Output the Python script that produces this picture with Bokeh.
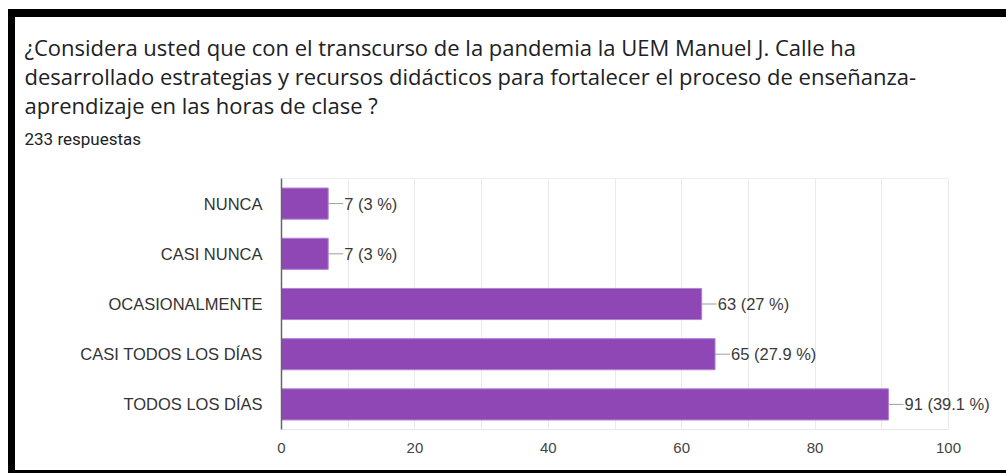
from bokeh.plotting import figure
from bokeh.layouts import column
from bokeh.models import (ColumnDataSource, FactorRange, Range1d, LabelSet,
                          SingleIntervalTicker, FixedTicker, LinearAxis)
from bokeh.embed import file_html
from bokeh.resources import INLINE
from bokeh.core.properties import value

# ---- data ----
categories = ["NUNCA", "CASI NUNCA", "OCASIONALMENTE", "CASI TODOS LOS DÍAS", "TODOS LOS DÍAS"]
counts = [7, 7, 63, 65, 91]
percents = ["3", "3", "27", "27.9", "39.1"]
title_lines = [
    "¿Considera usted que con el transcurso de la pandemia la UEM Manuel J. Calle ha",
    "desarrollado estrategias y recursos didácticos para fortalecer el proceso de enseñanza-",
    "aprendizaje en las horas de clase ?",
]
subtitle = "233 respuestas"
x_ticks_interval = 20
x_axis_max = 100

labels = [f"{c} ({p} %)" for c, p in zip(counts, percents)]

# ---- layout constants (pixels) ----
W = 991
TOP_H = 155
CH_H = 298
FL, FR, FT, FB = 266, 8, 6, 41
px_per_unit = 667 / x_axis_max
x_end = (W - FL - FR) / px_per_unit

# ---- header figure (pixel coordinates) ----
head = figure(width=W, height=TOP_H, output_backend="svg", toolbar_location=None,
              x_range=Range1d(0, W), y_range=Range1d(TOP_H, 0),
              min_border=0, background_fill_color="white", border_fill_color="white")
head.frame_align = False
head.axis.visible = False
head.grid.visible = False
head.outline_line_color = None
hsrc = ColumnDataSource(dict(x=[9] * 3, y=[29, 58, 87], t=title_lines))
head.text(x="x", y="y", text="t", source=hsrc, text_font=value("Open Sans"),
          text_font_size="22px", text_color="#202124", text_baseline="alphabetic")
ssrc = ColumnDataSource(dict(x=[9], y=[121], t=[subtitle]))
head.text(x="x", y="y", text="t", source=ssrc, text_font=value("Roboto"),
          text_font_size="17px", text_color="#202124", text_baseline="alphabetic")

# ---- chart figure ----
src = ColumnDataSource(dict(cat=categories, val=counts, lab=labels))
p = figure(width=W, height=CH_H, output_backend="svg", toolbar_location=None,
           y_range=FactorRange(factors=list(reversed(categories)), range_padding=0),
           x_range=Range1d(0, x_end),
           min_border_left=FL, min_border_top=FT, min_border_right=FR, min_border_bottom=FB,
           background_fill_color="white", border_fill_color="white")
p.frame_align = False

p.hbar(y="cat", right="val", left=0, height=0.62, source=src,
       fill_color="#9047b6", line_color="#b083d3", line_width=1)
p.ray(x="val", y="cat", length=15, angle=0, length_units="screen", source=src,
      line_color="#9e9e9e", line_width=1)
p.add_layout(LabelSet(x="val", y="cat", text="lab", source=src, x_offset=16,
                      text_baseline="middle", text_align="left",
                      text_font=value("Liberation Sans"), text_font_size="16.5px",
                      text_color="#3a3a3a"))

ticker = SingleIntervalTicker(interval=x_ticks_interval, num_minor_ticks=2)
p.xaxis.ticker = ticker
p.xaxis.bounds = (0, x_axis_max)
p.xaxis.axis_line_color = "#e6e6e6"
p.xaxis.major_tick_line_color = None
p.xaxis.minor_tick_line_color = None
p.xaxis.major_label_text_font = "Liberation Sans"
p.xaxis.major_label_text_font_size = "15px"
p.xaxis.major_label_text_color = "#444444"
p.xaxis.major_label_standoff = 7

top_axis = LinearAxis(ticker=FixedTicker(ticks=[]), bounds=(0, x_axis_max),
                      axis_line_color="#eeeeee",
                      major_tick_line_color=None, minor_tick_line_color=None,
                      major_label_standoff=0)
p.add_layout(top_axis, "above")

p.yaxis.axis_line_color = "#666666"
p.yaxis.axis_line_width = 1.5
p.yaxis.major_tick_line_color = None
p.yaxis.minor_tick_line_color = None
p.yaxis.major_label_text_font = "Liberation Sans"
p.yaxis.major_label_text_font_size = "16.5px"
p.yaxis.major_label_text_color = "#333333"
p.yaxis.major_label_standoff = 13

p.xgrid.ticker = ticker
p.xgrid.grid_line_color = "#ebebeb"
p.xgrid.minor_grid_line_color = "#ebebeb"
p.ygrid.grid_line_color = None
p.outline_line_color = None

layout = column(head, p, spacing=0,
                styles={"margin-top": "9px", "margin-left": "8px",
                        "border-top": "8px solid black",
                        "border-left": "7px solid black",
                        "border-bottom": "3px solid black"})

open("out.html", "w").write(file_html(layout, INLINE))
